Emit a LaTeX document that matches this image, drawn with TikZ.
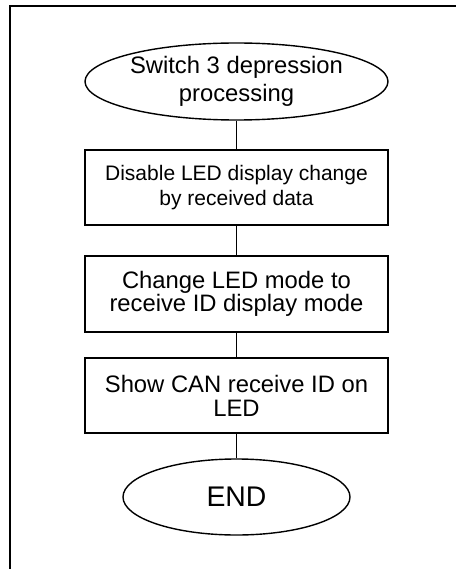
\documentclass[tikz,border=0pt]{standalone}
\usepackage{fontspec}
\setmainfont{Liberation Sans}
\usetikzlibrary{shapes.geometric}
\begin{document}
\begin{tikzpicture}[x=1pt,y=-1pt,
  framestyle/.style={line width=1.8pt},
  terminal/.style={draw, ellipse, line width=1.4pt, inner sep=0pt, align=center},
  procbox/.style={draw, rectangle, line width=1.6pt, inner sep=0pt,
    minimum width=303pt, align=center},
  link/.style={line width=1.3pt}]
  \useasboundingbox (0,0) rectangle (455,569);

  % outer frame (open to the right and bottom)
  \draw[framestyle] (456,6) -- (10,6) -- (10,570);

  % flowchart nodes
  \node[terminal, minimum width=303pt, minimum height=77pt,
        font=\fontsize{23.8}{27.5}\selectfont] (start) at (236.5,81.5)
        {Switch 3 depression\\processing};
  \node[procbox, minimum height=75pt,
        font=\fontsize{21}{25.6}\selectfont] (disable) at (236.5,187.5)
        {Disable LED display change\\by received data};
  \node[procbox, minimum height=76pt,
        font=\fontsize{23.8}{22.5}\selectfont] (mode) at (236.5,294)
        {Change LED mode to\\receive ID display mode};
  \node[procbox, minimum height=75pt,
        font=\fontsize{23.8}{24}\selectfont] (show) at (236.5,395.5)
        {Show CAN receive ID on\\LED};
  \node[terminal, minimum width=227pt, minimum height=76pt,
        font=\fontsize{28.4}{30}\selectfont] (finish) at (236.5,497)
        {END};

  % connectors
  \draw[link] (start.south) -- (disable.north);
  \draw[link] (disable.south) -- (mode.north);
  \draw[link] (mode.south) -- (show.north);
  \draw[link] (show.south) -- (finish.north);
\end{tikzpicture}
\end{document}
